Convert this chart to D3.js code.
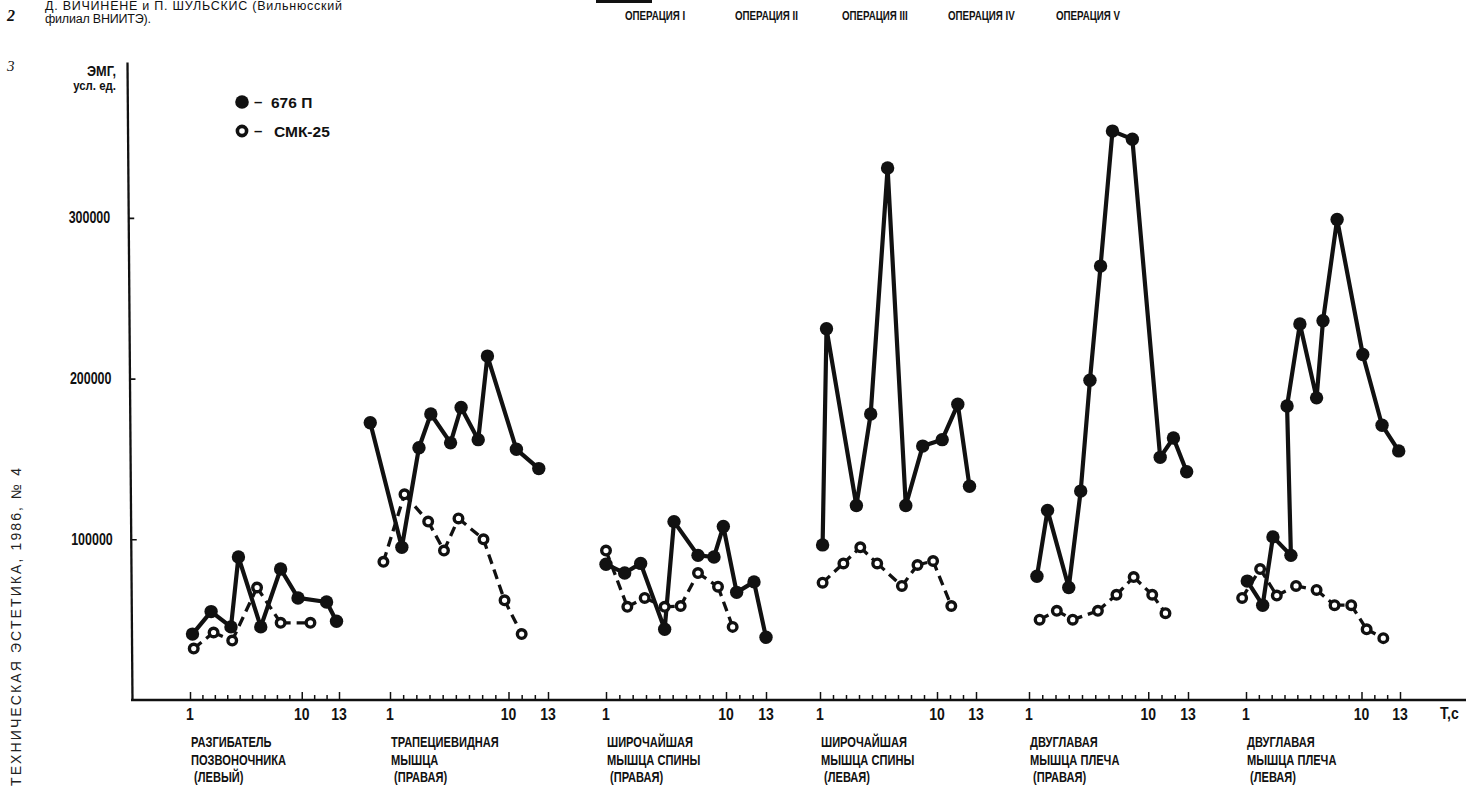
<!DOCTYPE html>
<meta charset="utf-8">

<body style="margin:0;background:#fff;">
    <svg width="1468" height="788"></svg>
</body>
<script src="https://cdn.jsdelivr.net/npm/d3@7/dist/d3.min.js"></script>
<script>
    // подписи групп (мышцы), по строкам
    let muscles = [
        ["РАЗГИБАТЕЛЬ", "ПОЗВОНОЧНИКА", "(ЛЕВЫЙ)"],
        ["ТРАПЕЦИЕВИДНАЯ", "МЫШЦА", "(ПРАВАЯ)"],
        ["ШИРОЧАЙШАЯ", "МЫШЦА СПИНЫ", "(ПРАВАЯ)"],
        ["ШИРОЧАЙШАЯ", "МЫШЦА СПИНЫ", "(ЛЕВАЯ)"],
        ["ДВУГЛАВАЯ", "МЫШЦА ПЛЕЧА", "(ПРАВАЯ)"],
        ["ДВУГЛАВАЯ", "МЫШЦА ПЛЕЧА", "(ЛЕВАЯ)"]
    ];
    let operations = ["ОПЕРАЦИЯ I", "ОПЕРАЦИЯ II", "ОПЕРАЦИЯ III", "ОПЕРАЦИЯ IV", "ОПЕРАЦИЯ V"];
    let seriesNames = ["676 П", "СМК-25"];
    let yTicks = [100000, 200000, 300000];
    let xTicks = [1, 2, 3, 4, 5, 6, 7, 8, 9, 10, 11, 12, 13];
    let xTickLabels = [1, 10, 13];

    // 676 П: время T, c и ЭМГ, усл. ед. (по группам)
    let t676 = [
        [1.2, 2.7, 4.3, 4.9, 6.7, 8.3, 9.7, 12.0, 12.8],
        [-0.5, 1.9, 3.2, 4.1, 5.6, 6.4, 7.7, 8.4, 10.6, 12.3],
        [1.0, 2.4, 3.6, 5.4, 6.1, 7.9, 9.1, 9.8, 10.8, 12.1, 13.0],
        [1.2, 1.5, 3.8, 4.9, 6.2, 7.6, 8.9, 10.4, 11.6, 12.5],
        [1.6, 2.4, 4.0, 4.9, 5.6, 6.4, 7.3, 8.8, 10.9, 11.9, 12.9],
        [1.1, 2.3, 3.1, 4.5, 4.2, 5.2, 6.5, 7.0, 8.1, 10.1, 11.6, 12.9]
    ];
    let v676 = [
        [41000, 55000, 45500, 89000, 45500, 81500, 63500, 61000, 49000],
        [172500, 95000, 157000, 178000, 160000, 182000, 162000, 214000, 156000, 144000],
        [84500, 79000, 85000, 44000, 111000, 90000, 89000, 108000, 67000, 73500, 39000],
        [96500, 231000, 121000, 178000, 331000, 121000, 158000, 162000, 184000, 133000],
        [77000, 118000, 70000, 130000, 199000, 270000, 354000, 349000, 151000, 163000, 142000],
        [74000, 59000, 101500, 90000, 183000, 234000, 188000, 236000, 299000, 215000, 171000, 155000]
    ];
    // СМК-25
    let tSmk = [
        [1.3, 2.9, 4.4, 6.4, 8.3, 10.7],
        [0.5, 2.1, 3.9, 5.1, 6.2, 8.1, 9.7, 11.0],
        [1.0, 2.6, 3.9, 5.4, 6.6, 7.9, 9.4, 10.5],
        [1.2, 2.8, 4.1, 5.4, 7.3, 8.5, 9.7, 11.1],
        [1.8, 3.1, 4.3, 6.2, 7.6, 8.9, 10.3, 11.3],
        [0.7, 2.1, 3.4, 4.9, 6.5, 7.9, 9.2, 10.4, 11.7]
    ];
    let vSmk = [
        [32000, 42000, 37000, 70000, 48000, 48000],
        [86000, 128000, 111000, 93000, 113000, 100000, 62000, 41000],
        [93000, 58000, 63500, 58000, 58500, 79000, 70500, 45500],
        [73000, 85000, 95000, 85000, 71000, 84000, 86500, 58500],
        [50000, 55500, 50000, 55500, 65500, 76500, 65500, 54000],
        [63500, 81500, 65000, 71000, 68500, 59000, 59000, 44000, 38500]
    ];

    let svg = d3.select("svg"),
        sans = '"Liberation Sans", Arial, sans-serif',
        ink = "#111";

    // разметка: где на оси стоят отметки 1 и 13 каждой группы
    let groupStart = [190, 390, 606, 820, 1029, 1246],
        groupEnd = [339, 548, 766, 976, 1188, 1400],
        opX = [625, 735, 842, 948, 1056],
        tilt = 0.45; // наклон оси Y, градусы

    let y = d3.scaleLinear().domain([0, 397000]).range([700, 62]);
    let xs = groupStart.map((a, i) => d3.scaleLinear().domain([1, 13]).range([a, groupEnd[i]]));

    // узкий жирный шрифт: обычный жирный, сжатый по горизонтали
    let narrow = (parent, x, y, str, size, anchor, sx) => parent.append("text")
        .attr("transform", `translate(${x},${y}) scale(${sx || 0.8},1)`)
        .attr("text-anchor", anchor || "start")
        .style("font", `bold ${size}px ${sans}`)
        .attr("fill", ink)
        .text(str);

    // ---- шапка страницы ----
    svg.append("text").attr("x", 7).attr("y", 21)
        .style("font", 'bold italic 16px "Liberation Serif", serif').attr("fill", ink).text("2");
    svg.append("text").attr("x", 7).attr("y", 71)
        .style("font", 'italic 15px "Liberation Serif", serif').attr("fill", ink).text("3");
    svg.append("text").attr("x", 45).attr("y", 10)
        .attr("textLength", 297).attr("lengthAdjust", "spacing")
        .style("font", "12.5px " + sans).attr("fill", ink)
        .text("Д. ВИЧИНЕНЕ и П. ШУЛЬСКИС (Вильнюсский");
    svg.append("text").attr("x", 45).attr("y", 23)
        .attr("textLength", 106).attr("lengthAdjust", "spacing")
        .style("font", "12.5px " + sans).attr("fill", ink)
        .text("филиал ВНИИТЭ).");
    svg.append("text")
        .attr("transform", "translate(21,786) rotate(-90)")
        .attr("textLength", 318).attr("lengthAdjust", "spacing")
        .style("font", "14px " + sans).attr("fill", "#222")
        .text("ТЕХНИЧЕСКАЯ ЭСТЕТИКА, 1986, № 4");
    svg.append("rect").attr("x", 596).attr("y", 0).attr("width", 56).attr("height", 3).attr("fill", ink);

    operations.forEach((d, i) => narrow(svg, opX[i], 20, d, 12.5, "start", 0.78));

    // ---- ось Y (в оригинале чуть наклонена) ----
    let yAxis = svg.append("g")
        .attr("transform", `translate(132,700) skewX(${tilt}) translate(0,-700)`)
        .call(d3.axisLeft(y).tickValues(yTicks).tickSizeInner(-6).tickSizeOuter(0).tickFormat(""));
    yAxis.select(".domain").attr("stroke", ink).attr("stroke-width", 2.3);
    yAxis.selectAll(".tick line").attr("stroke", ink).attr("stroke-width", 1.6);
    let slope = Math.tan(tilt * Math.PI / 180);
    yTicks.forEach(v => narrow(svg, 114 - (700 - y(v)) * slope, y(v) + 5.5, v, 16, "end", 0.78));

    narrow(svg, 116, 76, "ЭМГ,", 15, "end", 0.85);
    narrow(svg, 116, 90, "усл. ед.", 13, "end", 0.88);

    // ---- базовая линия и оси T по группам ----
    svg.append("line")
        .attr("x1", 131).attr("x2", 1466)
        .attr("y1", y(0)).attr("y2", y(0))
        .attr("stroke", ink).attr("stroke-width", 2.4);

    xs.forEach((x, i) => {
        let g = svg.append("g")
            .attr("transform", `translate(0,${y(0)})`)
            .call(d3.axisBottom(x).tickValues(xTicks).tickSize(-5).tickFormat(""));
        g.select(".domain").remove();
        g.selectAll(".tick line")
            .attr("y2", d => xTickLabels.includes(d) ? -8 : -5)
            .attr("stroke", ink).attr("stroke-width", 1.5);
        xTickLabels.forEach(d => narrow(svg, x(d), 720, d, 16.5, "middle", 0.85));

        muscles[i].forEach((line, k) =>
            narrow(svg, groupStart[i] + 1 + (k == 2 ? 3 : 0), 747 + k * 17.5, line, 15, "start", 0.74));
    });
    narrow(svg, 1440, 719, "T,c", 16.5, "start", 0.85);

    // ---- кривые ----
    xs.forEach((x, i) => {
        let solid = t676[i].map((t, k) => ({ t: t, v: v676[i][k] })),
            open = tSmk[i].map((t, k) => ({ t: t, v: vSmk[i][k] }));
        let line = d3.line().x(d => x(d.t)).y(d => y(d.v));

        // СМК-25: штрих начинается от каждой точки
        d3.pairs(open).forEach(p => {
            svg.append("path").attr("d", line(p))
                .attr("fill", "none").attr("stroke", ink)
                .attr("stroke-width", 3.3).attr("stroke-dasharray", "10,6");
        });
        svg.append("path").attr("d", line(solid))
            .attr("fill", "none").attr("stroke", ink)
            .attr("stroke-width", 4.2).attr("stroke-linejoin", "round");

        svg.selectAll(null).data(open).enter().append("circle")
            .attr("cx", d => x(d.t)).attr("cy", d => y(d.v)).attr("r", 4.3)
            .attr("fill", "#fff").attr("stroke", ink).attr("stroke-width", 3.4);
        svg.selectAll(null).data(solid).enter().append("circle")
            .attr("cx", d => x(d.t)).attr("cy", d => y(d.v)).attr("r", 6.7)
            .attr("fill", ink);
    });

    // ---- легенда ----
    let legend = svg.append("g");
    seriesNames.forEach((name, i) => {
        let cy = 102 + i * 29;
        if (i == 0) {
            legend.append("circle").attr("cx", 242).attr("cy", cy).attr("r", 6.8).attr("fill", ink);
        } else {
            legend.append("circle").attr("cx", 242).attr("cy", cy).attr("r", 4.6)
                .attr("fill", "#fff").attr("stroke", ink).attr("stroke-width", 3.6);
        }
        legend.append("text").attr("x", 254).attr("y", cy + 5)
            .style("font", "bold 15px " + sans).attr("fill", ink).text("–");
        legend.append("text").attr("x", i == 0 ? 271 : 274).attr("y", cy + 6)
            .style("font", "bold 15.5px " + sans).attr("fill", ink).text(name);
    });
</script>
